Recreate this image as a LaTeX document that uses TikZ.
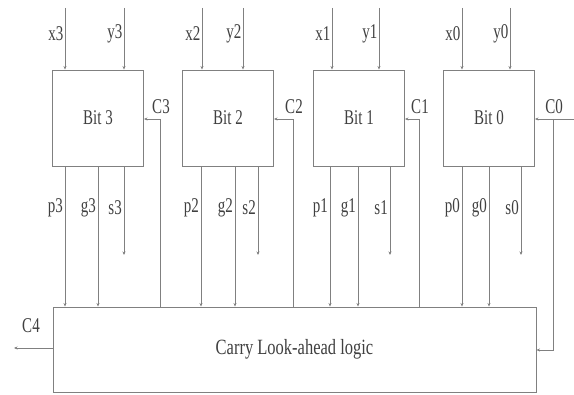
\documentclass[tikz,border=0pt]{standalone}
\usepackage{fontspec}
\setmainfont{Liberation Serif}
\usetikzlibrary{arrows.meta,calc}
\definecolor{linec}{gray}{0.5}
\definecolor{textc}{gray}{0.25}
\newcommand{\TT}[1]{\scalebox{1}[1.4]{#1}}
\tikzset{
  blk/.style={draw=linec,line width=0.9pt,minimum width=91pt,minimum height=96pt,inner sep=0pt,text=textc,font=\fontsize{15}{18}\selectfont},
  lab/.style={inner sep=0pt,text=textc,font=\fontsize{15}{18}\selectfont},
  wire/.style={draw=linec,line width=0.9pt},
  arr/.style={wire,-{Stealth[length=3.5pt,width=3pt]}}
}
\begin{document}
\begin{tikzpicture}[x=1pt,y=-1pt]
\useasboundingbox (0,0) rectangle (574,395);
% bit boxes
\node[blk] (b3) at (98,118) {\TT{Bit 3}};
\node[blk] (b2) at (228,118) {\TT{Bit 2}};
\node[blk] (b1) at (359,118) {\TT{Bit 1}};
\node[blk] (b0) at (489,118) {\TT{Bit 0}};
% carry look-ahead
\node[blk,minimum width=483pt,minimum height=85pt] (la) at (294.5,349.5) {\scalebox{1.1}[1.45]{Carry Look-ahead logic}};
% per-bit wiring
\foreach \i/\xa/\xb/\p/\g/\s/\cl in {3/65/124/65/98/124/160, 2/202/243/201/235/258/293, 1/332/379/330/358/390/419, 0/462/510/462/489/521/553}{
  \coordinate (xt\i) at (\xa,8);
  \coordinate (yt\i) at (\xb,8);
  \draw[arr] (xt\i) -- (xt\i |- b\i.north);
  \draw[arr] (yt\i) -- (yt\i |- b\i.north);
  \node[lab,anchor=east] (xl\i) at (\xa-1.5,34) {\TT{x\i}};
  \node[lab,anchor=east] (yl\i) at (\xb-1.5,34) {\TT{y\i}};
  \coordinate (pc\i) at (\p,0);
  \coordinate (gc\i) at (\g,0);
  \coordinate (sc\i) at (\s,255);
  \draw[arr] (pc\i |- b\i.south) -- (pc\i |- la.north);
  \draw[arr] (gc\i |- b\i.south) -- (gc\i |- la.north);
  \draw[arr] (sc\i |- b\i.south) -- (sc\i);
  \node[lab,anchor=east] (pl\i) at (\p-2,208) {\TT{p\i}};
  \node[lab,anchor=east] (gl\i) at (\g-2,208) {\TT{g\i}};
  \node[lab,anchor=east] (sl\i) at (\s-2,208) {\TT{s\i}};
  \coordinate (cc\i) at (\cl,119);
  \node[lab] (cl\i) at (\cl+1,107) {\TT{C\i}};
}
% carries from look-ahead logic up into bits 3..1
\foreach \i in {3,2,1}{
  \draw[arr] (cc\i |- la.north) -- (cc\i) -- (cc\i -| b\i.east);
}
% C0 input
\coordinate (c0in) at (574,119);
\coordinate (c0la) at (553,350);
\draw[arr] (c0in) -- (c0in -| b0.east);
\draw[arr] (cc0) -- (c0la) -- (c0la -| la.east);
% C4 output
\coordinate (c4out) at (14,348);
\draw[arr] (c4out -| la.west) -- (c4out);
\node[lab] (c4l) at (31,326) {\TT{C4}};
\end{tikzpicture}
\end{document}
